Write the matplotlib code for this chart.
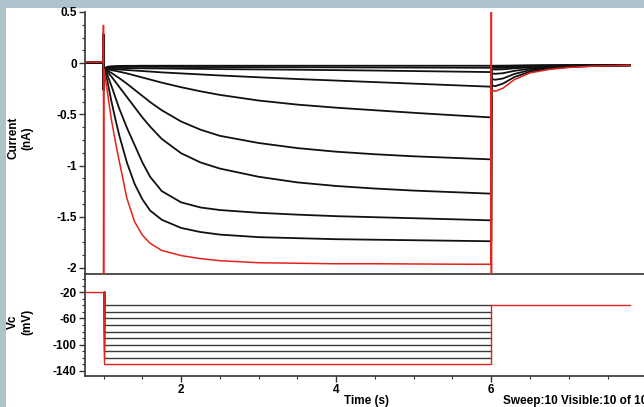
import numpy as np
import matplotlib.pyplot as plt
from matplotlib.ticker import MultipleLocator
from matplotlib.patches import Rectangle

plt.rcParams['font.family'] = ['Liberation Sans', 'DejaVu Sans']
plt.rcParams['font.weight'] = 'bold'
plt.rcParams['axes.unicode_minus'] = False

# voltage protocol (mV)
v_hold = -20
v_steps = [-40, -50, -60, -70, -80, -90, -100, -110, -120, -130]
v_tail = -40
t_start, t_on, t_off, t_end = 0.76, 1.0, 6.0, 7.79

# baseline current before the step (nA)
i_base = [0.005, 0.005, 0.005, 0.005, 0.005, 0.005, 0.005, 0.005, 0.005, 0.01]
# capacitive transient at step onset (peak, trough)
i_spike_on = [(0.28, -0.26)] * 9 + [(0.37, -2.4)]
# transient at step offset (only the last sweep shows it)
i_spike_off = [None] * 9 + [(1.0, -2.5)]

# current during the step
t_act = [1.003, 1.02, 1.05, 1.1, 1.15, 1.2, 1.3, 1.4, 1.5, 1.6, 1.75,
         2.0, 2.25, 2.5, 3.0, 3.5, 4.0, 4.5, 5.0, 5.5, 6.0]
i_act = [
    [-0.06, -0.045, -0.035, -0.03, -0.028, -0.027, -0.026, -0.026, -0.025, -0.025, -0.025,
     -0.025, -0.025, -0.025, -0.025, -0.025, -0.025, -0.025, -0.025, -0.025, -0.025],
    [-0.06, -0.05, -0.042, -0.038, -0.036, -0.035, -0.035, -0.035, -0.035, -0.036, -0.036,
     -0.037, -0.038, -0.038, -0.039, -0.04, -0.041, -0.042, -0.043, -0.044, -0.045],
    [-0.06, -0.055, -0.05, -0.048, -0.047, -0.047, -0.048, -0.049, -0.05, -0.051, -0.052,
     -0.054, -0.056, -0.058, -0.061, -0.064, -0.068, -0.072, -0.077, -0.082, -0.087],
    [-0.06, -0.058, -0.057, -0.058, -0.06, -0.062, -0.067, -0.072, -0.077, -0.082, -0.09,
     -0.1, -0.11, -0.12, -0.138, -0.155, -0.17, -0.185, -0.2, -0.215, -0.23],
    [-0.06, -0.06, -0.062, -0.068, -0.075, -0.083, -0.1, -0.12, -0.14, -0.16, -0.19,
     -0.235, -0.275, -0.31, -0.365, -0.405, -0.435, -0.46, -0.485, -0.508, -0.53],
    [-0.06, -0.065, -0.075, -0.095, -0.12, -0.145, -0.2, -0.26, -0.32, -0.38, -0.46,
     -0.57, -0.65, -0.71, -0.78, -0.83, -0.865, -0.89, -0.91, -0.925, -0.94],
    [-0.06, -0.07, -0.09, -0.13, -0.18, -0.23, -0.33, -0.43, -0.53, -0.62, -0.74,
     -0.88, -0.97, -1.03, -1.11, -1.165, -1.2, -1.225, -1.245, -1.26, -1.275],
    [-0.06, -0.08, -0.12, -0.22, -0.33, -0.44, -0.63, -0.8, -0.97, -1.11, -1.25,
     -1.36, -1.41, -1.435, -1.462, -1.48, -1.495, -1.505, -1.515, -1.525, -1.536],
    [-0.06, -0.1, -0.18, -0.37, -0.54, -0.7, -0.97, -1.18, -1.33, -1.44, -1.53,
     -1.61, -1.65, -1.675, -1.70, -1.71, -1.72, -1.725, -1.73, -1.735, -1.74],
    [-0.06, -0.13, -0.29, -0.55, -0.76, -0.95, -1.32, -1.55, -1.68, -1.76, -1.83,
     -1.88, -1.91, -1.93, -1.95, -1.955, -1.96, -1.96, -1.962, -1.964, -1.965],
]

# tail current after the step
t_tail = [6.004, 6.05, 6.15, 6.3, 6.5, 6.75, 7.0, 7.3, 7.79]
i_tail = [
    [-0.025, -0.025, -0.024, -0.023, -0.022, -0.021, -0.02, -0.02, -0.02],
    [-0.03, -0.03, -0.028, -0.026, -0.024, -0.022, -0.021, -0.02, -0.02],
    [-0.03, -0.03, -0.029, -0.027, -0.025, -0.023, -0.021, -0.02, -0.02],
    [-0.035, -0.035, -0.034, -0.031, -0.028, -0.025, -0.022, -0.021, -0.02],
    [-0.045, -0.046, -0.045, -0.04, -0.034, -0.029, -0.025, -0.022, -0.02],
    [-0.06, -0.062, -0.06, -0.05, -0.04, -0.033, -0.028, -0.023, -0.02],
    [-0.1, -0.104, -0.098, -0.075, -0.053, -0.04, -0.031, -0.025, -0.02],
    [-0.155, -0.162, -0.15, -0.105, -0.068, -0.047, -0.035, -0.026, -0.02],
    [-0.215, -0.225, -0.2, -0.135, -0.083, -0.055, -0.038, -0.027, -0.02],
    [-0.26, -0.275, -0.245, -0.16, -0.095, -0.06, -0.042, -0.03, -0.02],
]

RED = '#e3231c'
W, H = 644, 407
fig = plt.figure(figsize=(W / 100, H / 100), dpi=100)
fig.patch.set_facecolor('#afc3cd')
fig.add_artist(Rectangle((6 / W, 0), 1, 1 - 8 / H, transform=fig.transFigure,
                         facecolor='white', edgecolor='none', zorder=0))

left = 85 / W
ax = fig.add_axes([left, 1 - 274 / H, 1 - left, (274 - 12) / H])
ax2 = fig.add_axes([left, 1 - 376 / H, 1 - left, (376 - 274) / H], sharex=ax)
for a in (ax, ax2):
    a.set_facecolor('none')
    a.spines['top'].set_visible(False)
    a.spines['right'].set_visible(False)
    for s in ('left', 'bottom'):
        a.spines[s].set_color('#333333')
        a.spines[s].set_linewidth(1.2)
    a.tick_params(which='major', direction='out', length=4, width=1, colors='#333333',
                  labelsize=8.5, labelcolor='black', pad=2)
    a.tick_params(which='minor', direction='out', length=2.5, width=0.8, colors='#333333')

# currents
last = len(v_steps) - 1
for k in range(len(v_steps)):
    t = [t_start, t_on - 0.004, t_on - 0.002, t_on] + t_act
    i = [i_base[k], i_base[k], i_spike_on[k][0], i_spike_on[k][1]] + i_act[k]
    if i_spike_off[k] is not None:
        t += [t_off + 0.001, t_off + 0.002]
        i += list(i_spike_off[k])
    t += t_tail
    i += i_tail[k]
    if k == last:
        ax.plot(t, i, color=RED, lw=1.1, zorder=3)
    else:
        ax.plot(t, i, color='#111111', lw=1.3, zorder=2)

ax.set_ylim(-2.06, 0.5)
ax.yaxis.set_major_locator(MultipleLocator(0.5))
ax.yaxis.set_minor_locator(MultipleLocator(0.125))
ax.yaxis.set_major_formatter(plt.FuncFormatter(lambda v, p: ('%g' % v)))
ax.tick_params(axis='x', which='both', bottom=False, labelbottom=False)

# command voltage
for k, vs in enumerate(v_steps):
    if k == last:
        ax2.plot([t_start, t_on, t_on, t_off, t_off, t_end],
                 [v_hold, v_hold, vs, vs, v_tail, v_tail], color=RED, lw=1.0, zorder=3)
    else:
        ax2.plot([t_on + 0.006, t_on + 0.006, t_off], [v_hold, vs, vs],
                 color='#3a3a3a', lw=1.0, zorder=2)

ax2.set_ylim(-148, 8)
ax2.set_yticks([-140, -100, -60, -20])
ax2.yaxis.set_minor_locator(MultipleLocator(10))
ax2.set_xlim(t_start, 7.97)
ax2.xaxis.set_major_locator(MultipleLocator(2))
ax2.xaxis.set_minor_locator(MultipleLocator(0.5))

fig.text(20 / W, 1 - 138 / H, 'Current\n(nA)', rotation=90, ha='center', va='center',
         fontsize=8.5, fontweight='bold', multialignment='center')
fig.text(20 / W, 1 - 322 / H, 'Vc\n(mV)', rotation=90, ha='center', va='center',
         fontsize=8.5, fontweight='bold', multialignment='center')
fig.text(366 / W, 1 - 401 / H, 'Time (s)', ha='center', va='center', fontsize=8.5,
         fontweight='bold')
fig.text(503 / W, 1 - 401 / H, 'Sweep:10 Visible:10 of 10', ha='left', va='center',
         fontsize=8.5, fontweight='bold')

fig.savefig('out.png', dpi=100, facecolor=fig.get_facecolor())
